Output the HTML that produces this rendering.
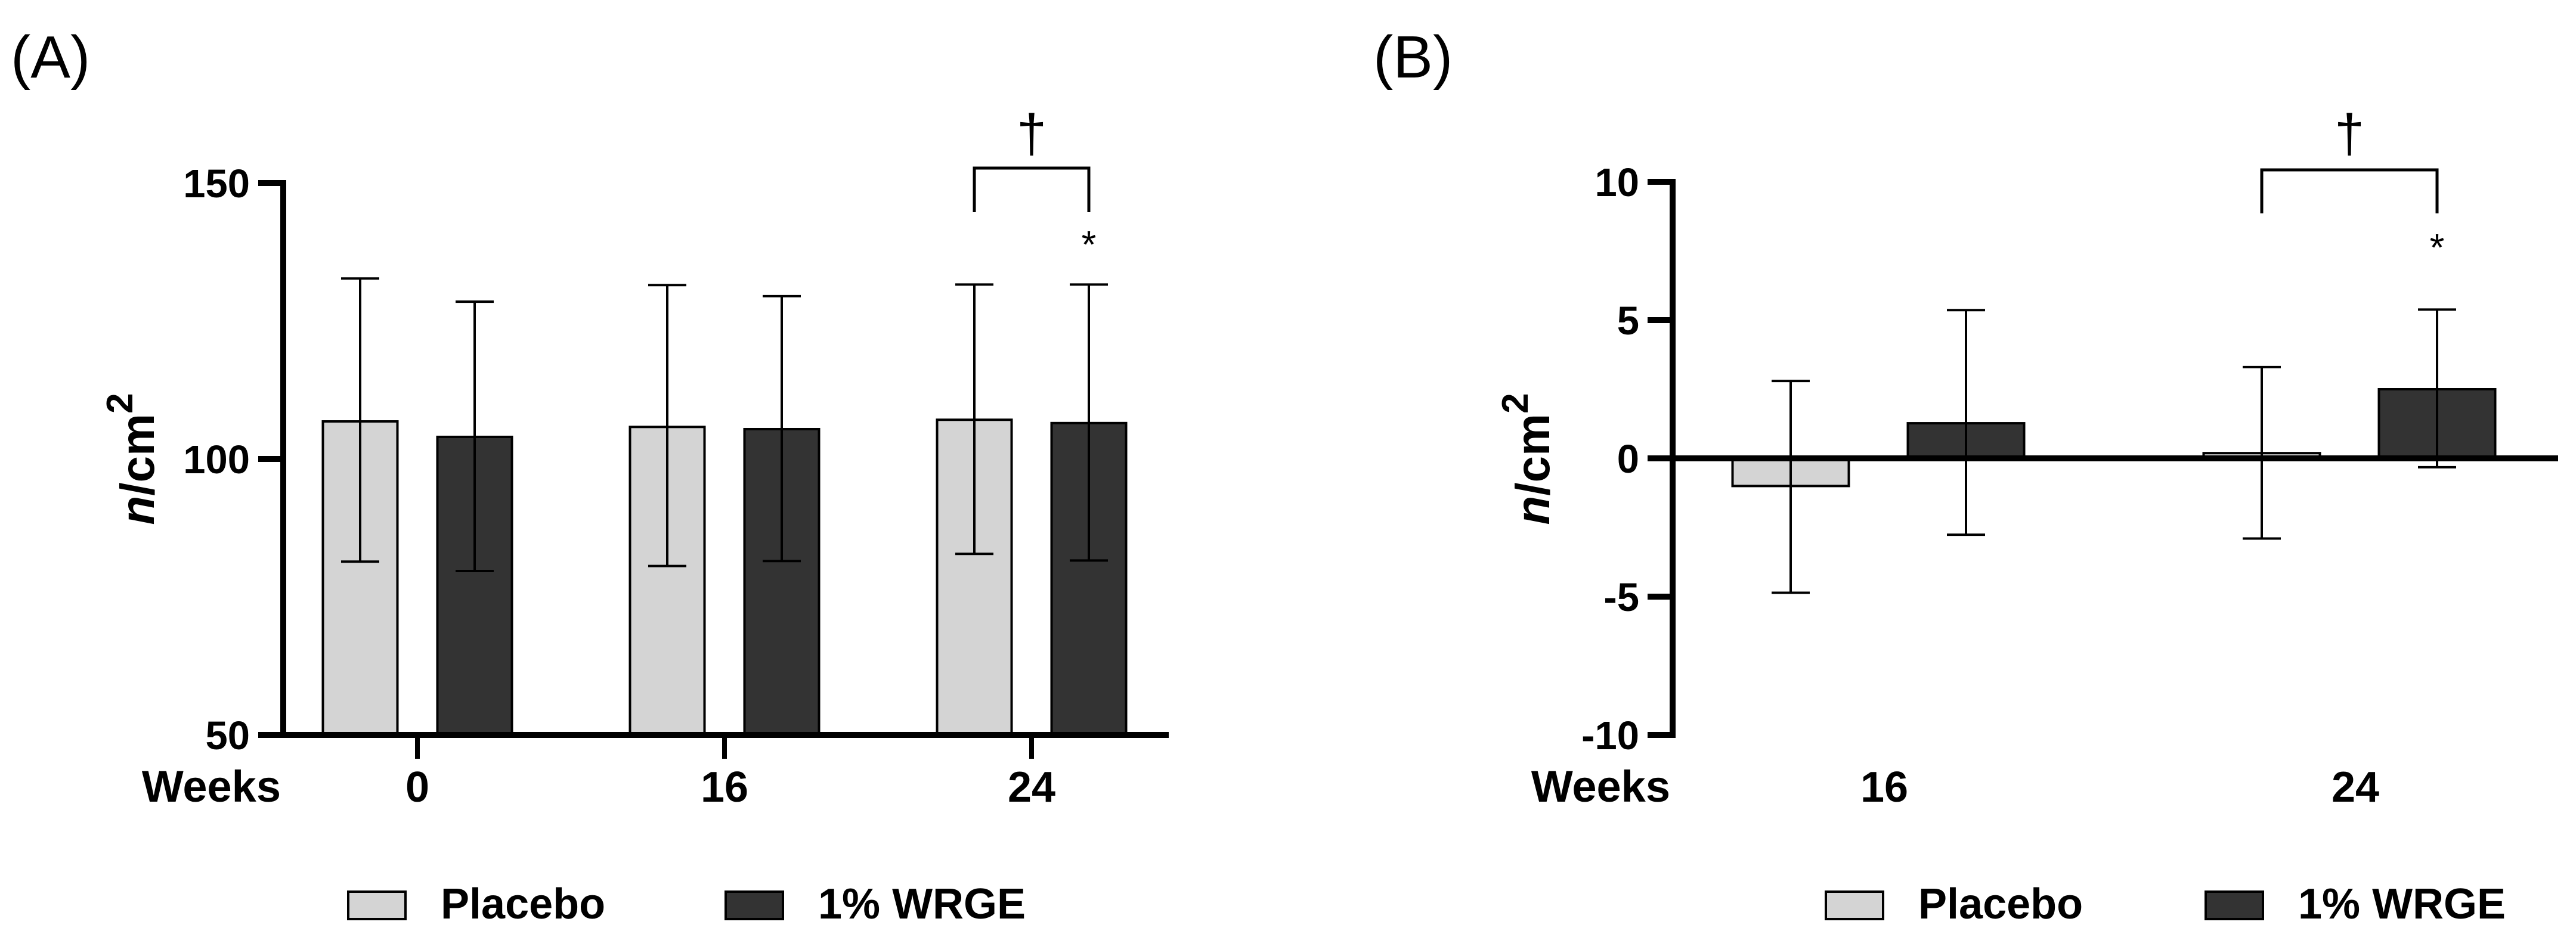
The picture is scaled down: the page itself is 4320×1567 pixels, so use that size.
<!DOCTYPE html>
<html><head><meta charset="utf-8"><style>
html,body{margin:0;padding:0;background:#fff;}
svg{display:block;font-family:"Liberation Sans",Arial,sans-serif;}
</style></head><body>
<svg id="fig" width="4320" height="1567" viewBox="0 0 4320 1567" xmlns="http://www.w3.org/2000/svg">
<g id="A"></g>
<g id="B"></g>
</svg>
<script>
// Panel A data
const catsA = ["0","16","24"];
const placeboA = [106.8, 105.8, 107.1];
const placeboAHi = [132.7, 131.5, 131.6];
const placeboALo = [81.4, 80.6, 82.8];
const wrgeA = [104.0, 105.4, 106.5];
const wrgeAHi = [128.5, 129.5, 131.6];
const wrgeALo = [79.7, 81.5, 81.6];
const ticksA = [50, 100, 150];
// Panel B data
const catsB = ["16","24"];
const placeboB = [-1.0, 0.19];
const placeboBHi = [2.8, 3.3];
const placeboBLo = [-4.86, -2.9];
const wrgeB = [1.27, 2.5];
const wrgeBHi = [5.36, 5.38];
const wrgeBLo = [-2.76, -0.32];
const ticksB = [-10, -5, 0, 5, 10];

const NS = "http://www.w3.org/2000/svg";
function mk(parent, tag, attrs, text){
  const e = document.createElementNS(NS, tag);
  for (const k in attrs) e.setAttribute(k, attrs[k]);
  if (text !== undefined) e.textContent = text;
  parent.appendChild(e);
  return e;
}
const LIGHT="#d4d4d4", DARK="#333333";

function panel(g, cfg){
  const y = v => cfg.yBot - (v - cfg.yMin)/(cfg.yMax - cfg.yMin)*(cfg.yBot - cfg.yTop);
  const x = i => cfg.x0 + i*cfg.step;
  const series = [
    {vals:cfg.p, hi:cfg.pHi, lo:cfg.pLo, fill:LIGHT, off:-cfg.off, name:"placebo"},
    {vals:cfg.w, hi:cfg.wHi, lo:cfg.wLo, fill:DARK, off:cfg.off, name:"wrge"}];
  series.forEach(s=>{
    s.vals.forEach((v,i)=>{
      const cx = x(i)+s.off;
      const yb = y(cfg.base), yv = y(v);
      const r = mk(g,"rect",{x:cx-cfg.bw/2, y:Math.min(yb,yv), width:cfg.bw, height:Math.abs(yb-yv), fill:s.fill, stroke:"#000","stroke-width":4});
      
      
      const eb = mk(g,"path",{d:`M${cx},${y(s.lo[i])}V${y(s.hi[i])}M${cx-32},${y(s.hi[i])}H${cx+32}M${cx-32},${y(s.lo[i])}H${cx+32}`, stroke:"#000","stroke-width":4, fill:"none"});
      
      
    });
  });
  const ya = mk(g,"line",{x1:cfg.ax, y1:cfg.yTop-5, x2:cfg.ax, y2:cfg.yBot+5, stroke:"#000","stroke-width":10});
  
  
  const xa = mk(g,"line",{x1:cfg.ax-5, y1:y(cfg.base), x2:cfg.xEnd, y2:y(cfg.base), stroke:"#000","stroke-width":10});
  
  
  cfg.ticks.forEach(t=>{
    mk(g,"line",{x1:cfg.ax-42, y1:y(t), x2:cfg.ax, y2:y(t), stroke:"#000","stroke-width":10});
    const tl = mk(g,"text",{x:cfg.ax-56, y:y(t)+24, "font-size":67, "font-weight":"bold", "text-anchor":"end"}, String(t));
    
    
  });
  cfg.cats.forEach((c,i)=>{
    if (cfg.catTicks) mk(g,"line",{x1:x(i), y1:cfg.yBot, x2:x(i), y2:cfg.yBot+40, stroke:"#000","stroke-width":8});
    const cl = mk(g,"text",{x:x(i)+(cfg.catDx||0), y:1345, "font-size":72, "font-weight":"bold", "text-anchor":"middle"}, c);
    
    
  });
  const wk = mk(g,"text",{x:cfg.ax-4, y:1345, "font-size":74, "font-weight":"bold", "text-anchor":"end"}, "Weeks");
  
  
  const yt = mk(g,"text",{transform:`translate(${cfg.ytx},770) rotate(-90)`, "font-size":80, "font-weight":"bold", "text-anchor":"middle"});
  
  
  mk(yt,"tspan",{"font-style":"italic"},"n");
  mk(yt,"tspan",{},"/cm");
  mk(yt,"tspan",{"font-size":62, dy:-36},"2");
  const pl = mk(g,"text",{x:cfg.lblX, y:130, "font-size":100}, cfg.lbl);
  
  
  const last = cfg.cats.length-1;
  const lx = x(last)-cfg.off, rx = x(last)+cfg.off;
  const br = mk(g,"path",{d:`M${lx},${cfg.brBot}V${cfg.brTop}H${rx}V${cfg.brBot}`, stroke:"#000","stroke-width":5, fill:"none"});
  
  
  const dg = mk(g,"text",{x:(lx+rx)/2, y:255, "font-size":90, "text-anchor":"middle"}, "†");
  
  
  const st = mk(g,"text",{x:rx, y:cfg.starY, "font-size":64, "text-anchor":"middle"}, "*");
  
  
  [[cfg.lg[0],LIGHT,"Placebo"],[cfg.lg[1],DARK,"1% WRGE"]].forEach(([lx0,f,t])=>{
    const lgG = mk(g,"g",{});
    
    
    mk(lgG,"rect",{x:lx0, y:1496, width:96, height:46, fill:f, stroke:"#000","stroke-width":4});
    mk(lgG,"text",{x:lx0+155, y:1541, "font-size":72, "font-weight":"bold"}, t);
  });
}

panel(document.getElementById("A"),{
  cats:catsA, p:placeboA, pHi:placeboAHi, pLo:placeboALo, w:wrgeA, wHi:wrgeAHi, wLo:wrgeALo,
  ticks:ticksA, yMin:50, yMax:150, yTop:307, yBot:1233, base:50,
  x0:700, step:515, off:96, bw:125, ax:475, xEnd:1960, catTicks:true,
  ytx:258, lbl:"(A)", lblX:18, brTop:282, brBot:356, starY:432, lg:[584,1217]
});
panel(document.getElementById("B"),{
  cats:catsB, p:placeboB, pHi:placeboBHi, pLo:placeboBLo, w:wrgeB, wHi:wrgeBHi, wLo:wrgeBLo,
  ticks:ticksB, yMin:-10, yMax:10, yTop:305, yBot:1233, base:0,
  x0:3150, step:790, off:147, bw:195, ax:2805, xEnd:4290, catTicks:false, catDx:10,
  ytx:2598, lbl:"(B)", lblX:2303, brTop:285, brBot:358, starY:437, lg:[3062,3699]
});
</script>
</body></html>
